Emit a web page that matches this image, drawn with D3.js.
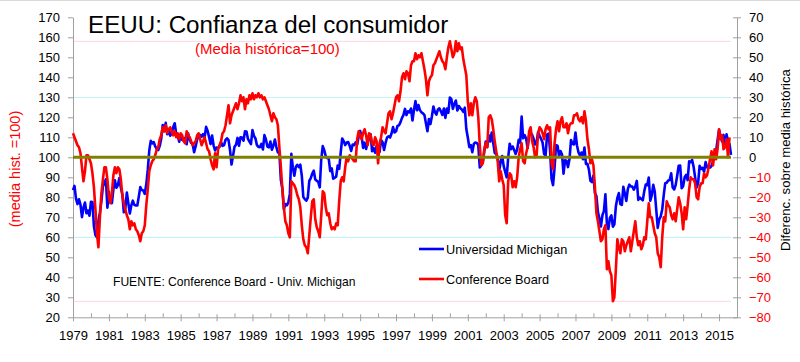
<!DOCTYPE html>
<html><head><meta charset="utf-8">
<script src="https://cdn.jsdelivr.net/npm/d3@7/dist/d3.min.js"></script>
<style>
html,body{margin:0;padding:0;background:#fff;}
svg{display:block;font-family:"Liberation Sans",Arial,sans-serif;}
</style></head>
<body>
<svg id="chart" width="800" height="362"></svg>
<script>
const startYear = 1979;
const seriesNames = ["Universidad Michigan", "Conference Board"];
// Universidad Michigan, monthly, media histórica = 100 (Jan 1979 - Sep 2015)
const michigan = [
83.6,85.7,79.3,76.6,79.0,76.3,70.1,74.8,77.4,72.0,73.4,70.8,
77.7,77.6,65.5,61.1,60.0,68.1,72.3,78.1,85.5,87.0,89.0,74.8,
82.8,77.6,77.1,84.0,88.5,84.8,86.0,89.6,84.8,81.5,72.5,74.6,
82.4,77.1,71.9,76.0,78.3,76.2,75.9,75.9,80.4,85.1,83.6,83.4,
81.7,86.5,93.7,103.4,108.2,107.0,107.6,105.4,104.3,103.6,105.7,109.3,
116.1,113.0,117.2,111.5,113.8,110.8,112.1,115.0,117.0,111.7,111.0,107.8,
111.4,108.7,108.7,109.7,106.5,111.9,109.0,107.2,106.8,102.5,105.4,108.9,
110.9,111.2,110.3,111.6,110.0,115.2,113.3,110.1,106.6,110.9,106.0,103.4,
104.9,104.6,105.3,107.6,105.7,106.1,108.7,109.5,108.6,103.6,96.4,100.7,
105.3,106.3,109.7,105.8,110.0,109.9,108.3,113.0,112.9,109.2,107.9,106.6,
113.6,110.7,109.4,106.1,105.2,105.1,106.7,103.9,111.1,108.9,105.4,105.0,
107.9,103.8,105.9,108.9,105.1,102.4,102.3,88.6,84.4,74.1,76.6,76.0,
77.5,81.7,101.7,94.9,90.8,95.2,96.2,95.1,96.3,90.8,80.2,79.1,
78.3,79.8,88.2,89.6,91.9,93.3,88.9,88.3,87.7,85.0,99.0,105.6,
103.6,100.5,99.6,99.3,93.1,94.5,89.3,89.7,90.4,95.9,94.2,102.3,
109.4,108.1,106.1,107.4,107.6,105.8,103.2,106.4,106.1,107.5,106.3,110.3,
113.2,110.3,104.7,107.3,104.2,107.5,109.5,111.6,103.1,104.6,102.3,105.6,
103.6,102.7,108.7,107.5,103.7,107.2,109.9,110.5,109.9,111.9,115.1,112.4,
113.0,115.7,116.0,117.6,119.7,121.2,124.2,121.1,123.0,122.5,124.4,118.4,
123.7,128.1,123.5,126.1,123.5,122.5,122.0,121.1,117.0,113.0,119.1,116.6,
120.5,125.4,122.6,121.3,123.9,124.5,123.0,121.2,124.4,119.7,124.4,122.3,
129.9,129.1,124.2,126.7,128.4,123.4,125.6,124.5,123.9,122.7,124.8,114.1,
109.9,105.1,106.1,102.5,106.7,107.4,107.2,106.1,94.9,95.9,97.3,103.0,
107.9,105.2,111.0,107.9,112.4,107.2,102.2,101.6,99.9,93.5,97.7,100.6,
95.6,92.7,90.0,99.8,106.8,104.1,105.4,103.6,101.7,103.9,108.7,107.4,
120.4,109.5,111.1,109.3,104.6,110.9,112.2,111.2,109.3,106.4,107.6,112.6,
110.8,109.2,107.4,101.7,100.8,111.4,111.9,103.4,89.2,86.1,94.7,106.1,
105.8,100.6,103.1,101.4,91.8,98.5,98.3,95.1,99.1,108.6,106.8,106.4,
112.4,105.9,102.5,101.0,102.4,99.0,104.9,96.7,96.7,93.8,88.3,87.6,
90.9,82.1,80.6,72.6,69.4,65.4,71.0,73.1,81.5,66.8,64.1,69.7,
71.0,65.3,66.5,75.5,79.7,82.1,76.6,76.2,85.3,81.9,78.2,84.1,
86.3,85.4,85.4,83.8,85.4,88.2,78.7,79.9,79.1,78.5,83.1,86.4,
86.1,89.9,78.3,81.0,86.2,82.9,73.9,64.7,69.0,70.5,73.9,81.1,
87.0,87.3,88.4,88.6,92.0,84.9,83.9,86.2,90.8,95.8,95.9,84.6,
85.6,90.0,91.2,88.6,98.0,97.6,98.7,95.2,89.9,84.9,87.1,95.7,
94.2,94.7,92.8,97.6,95.0,95.7,94.9,95.7,98.1,100.8,103.0,108.6,
113.8,110.7,107.9,111.2,105.2,111.5,108.0,106.6,101.2
];
// Conference Board, monthly, media histórica = 100 (Jan 1979 - Aug 2015)
const conferenceBoard = [
112,110,108,106,105,102,95,88,93,101,101,99,
97,92,85,74,62,55,70,82,89,95,95,89,
80,77,82,91,95,92,95,94,89,81,77,74,
71,69,64,68,66,67,64,63,61,58,62,63,
66,76,84,93,96,98,99,101,104,105,109,111,
115,113,116,112,114,115,113,111,113,110,112,109,
112,111,108,107,113,111,110,108,106,107,108,111,
112,109,106,108,110,107,104,103,99,96,94,102,
95,104,106,108,112,113,116,121,126,117,121,123,
125,127,124,127,131,128,130,124,129,127,131,129,
132,129,131,130,132,130,131,129,130,128,126,124,
121,118,122,120,119,116,105,95,84,75,68,66,
62,60,88,87,86,84,81,79,75,66,59,56,
55,52,61,70,78,79,69,65,63,60,71,83,
82,75,71,72,67,64,65,64,67,66,78,88,
90,88,95,100,98,101,100,99,98,98,109,113,
111,109,112,114,111,106,112,111,107,106,110,108,
97,107,110,115,113,112,117,122,123,119,122,126,
130,131,128,133,140,142,139,143,142,138,146,148,
148,152,149,151,150,152,148,144,139,131,138,140,
141,146,147,149,151,153,150,148,147,144,150,155,
158,154,150,152,158,153,157,154,155,149,145,141,
128,121,127,121,127,130,128,120,106,96,97,104,
107,105,120,121,119,114,108,103,98,88,93,89,
86,71,67,88,92,91,85,88,85,90,100,104,
107,98,97,102,105,113,115,108,105,100,101,112,
115,114,112,109,114,116,114,115,97,94,107,114,
118,113,118,120,115,115,117,112,116,117,117,121,
121,122,119,118,120,117,123,118,109,104,97,99,
96,85,72,68,63,58,59,64,66,44,48,43,
41,28,30,44,59,55,52,59,58,53,56,58,
60,53,58,63,68,60,56,58,54,56,60,59,
68,77,70,70,66,62,60,52,50,45,60,70,
68,78,76,75,71,69,72,68,74,80,77,72,
64,75,69,76,84,90,89,89,87,80,79,85,
87,87,92,90,91,95,99,103,96,104,99,104,
114,109,111,104,105,109,100,110
];
const leftTicks = d3.range(20, 171, 10);
const rightTicks = d3.range(-80, 71, 10);
const yearTicks = d3.range(1979, 2017, 1);
const baseline = 100;

const svg = d3.select("#chart");
const x = d3.scaleLinear().domain([1979, 2016]).range([73, 737]);
const yL = d3.scaleLinear().domain([20, 170]).range([317.3, 17.3]);
const yR = d3.scaleLinear().domain([-80, 70]).range([317.3, 17.3]);
const tOf = i => startYear + i / 12;

svg.append("line").attr("x1",0).attr("x2",800).attr("y1",0.5).attr("y2",0.5).attr("stroke","#d9d9d9");

// reference lines: max/min of each series
const xEnd = x(tOf(michigan.length - 1));
const refs = [
  {v: d3.max(conferenceBoard), c: "#ffdde8"},
  {v: d3.min(conferenceBoard), c: "#ffdde8"},
  {v: d3.max(michigan), c: "#c6f3fb"},
  {v: d3.min(michigan), c: "#c6f3fb"}
];
svg.selectAll("line.ref").data(refs).join("line").attr("class","ref")
  .attr("x1", x(1979)).attr("x2", xEnd)
  .attr("y1", d => yL(d.v)).attr("y2", d => yL(d.v))
  .attr("stroke", d => d.c).attr("stroke-width", 1.2);

// axes
const axisColor = "#a0a0a0";
const gL = svg.append("g").attr("transform", `translate(${x(1979)},0)`)
  .call(d3.axisLeft(yL).tickValues(leftTicks).tickSize(5).tickSizeOuter(0).tickPadding(8));
const gR = svg.append("g").attr("transform", `translate(${x(2016)},0)`)
  .call(d3.axisRight(yR).tickValues(rightTicks).tickSize(4).tickSizeOuter(0).tickPadding(8));
gR.selectAll(".tick line").attr("x1", -4);
gR.selectAll(".tick text").attr("fill", d => d < 0 ? "#ff0000" : "#000");
const gB = svg.append("g").attr("transform", `translate(0,${yL(20)})`)
  .call(d3.axisBottom(x).tickValues(yearTicks).tickSizeOuter(0)
    .tickFormat(d => ((d - 1979) % 2 === 0 && d <= 2015) ? String(d) : ""));
gB.selectAll(".tick line").attr("y1", d => (d - 1979) % 2 === 0 ? -3 : -4).attr("y2", d => (d - 1979) % 2 === 0 ? 4 : 0);
gB.selectAll(".tick text").attr("dy", null).attr("y", 23);
[gL, gR, gB].forEach(g => {
  g.attr("font-family", null).attr("font-size", 13);
  g.select(".domain").attr("stroke", axisColor);
  g.selectAll(".tick line").attr("stroke", axisColor);
});
gL.selectAll(".tick text").attr("fill", "#000");
gB.selectAll(".tick text").attr("fill", "#000");

// series
const line = d3.line().x((d, i) => x(tOf(i))).y(d => yL(d));
svg.append("path").datum(michigan).attr("d", line).attr("fill","none")
  .attr("stroke","#0000ff").attr("stroke-width",2.6).attr("stroke-linejoin","round");
svg.append("path").datum(conferenceBoard).attr("d", line).attr("fill","none")
  .attr("stroke","#ff0000").attr("stroke-width",2.6).attr("stroke-linejoin","round");

// media histórica line
svg.append("line").attr("x1", x(1979)).attr("x2", xEnd)
  .attr("y1", yL(baseline)).attr("y2", yL(baseline))
  .attr("stroke", "#808000").attr("stroke-width", 3);

// titles
svg.append("text").attr("x", 88).attr("y", 33).attr("font-size", 24.2).attr("fill","#000")
  .text("EEUU: Confianza del consumidor");
svg.append("text").attr("x", 195).attr("y", 53.5).attr("font-size", 15).attr("fill","#ff0000")
  .text("(Media histórica=100)");
svg.append("text").attr("transform","translate(20,169) rotate(-90)").attr("text-anchor","middle")
  .attr("font-size", 14.5).attr("fill","#ff0000").text("(media hist. =100)");
svg.append("text").attr("transform","translate(790,160) rotate(-90)").attr("text-anchor","middle")
  .attr("font-size", 13.2).attr("fill","#000").text("Diferenc. sobre media histórica");
svg.append("text").attr("x", 113).attr("y", 286).attr("font-size", 12.1).attr("fill","#000")
  .text("FUENTE: Conference Board - Univ. Michigan");

// legend
const legend = [
  {name: seriesNames[0], color: "#0000ff", y: 249},
  {name: seriesNames[1], color: "#ff0000", y: 279}
];
const lg = svg.selectAll("g.leg").data(legend).join("g").attr("class","leg");
lg.append("line").attr("x1", 419).attr("x2", 444).attr("y1", d => d.y).attr("y2", d => d.y)
  .attr("stroke", d => d.color).attr("stroke-width", 2.6);
lg.append("text").attr("x", 446).attr("y", d => d.y + 4.6).attr("font-size", 12.7).attr("fill","#000")
  .text(d => d.name);
</script>
</body></html>
